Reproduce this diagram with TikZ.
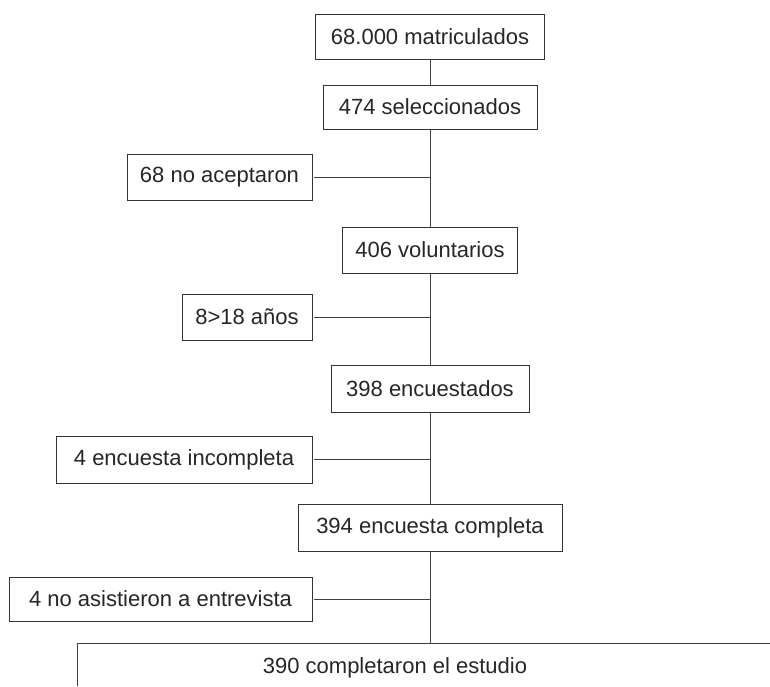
\documentclass[tikz,border=0pt]{standalone}
\usepackage{fontspec}
\setmainfont{Liberation Sans}
\usetikzlibrary{positioning, calc}

\begin{document}
\begin{tikzpicture}[x=1pt, y=-1pt,
    txt/.style={font=\fontsize{22}{26}\selectfont, text=black!85},
    box/.style={txt, draw=black!80, line width=0.9pt, inner sep=0pt},
    link/.style={draw=black!75, line width=0.8pt}]
  \useasboundingbox (0,0) rectangle (770,686);
  \node[box, minimum width=229pt, minimum height=45pt] (matric) at (430,36.5) {68.000 matriculados};
  \node[box, minimum width=214pt, minimum height=44pt] (selec) at (430,107) {474 seleccionados};
  \node[box, minimum width=185pt, minimum height=46pt] (noacep) at (219.5,177) {68 no aceptaron};
  \node[box, minimum width=175pt, minimum height=46pt] (volun) at (430,250) {406 voluntarios};
  \node[box, minimum width=130pt, minimum height=46pt] (mayores) at (247,317) {8>18 años};
  \node[box, minimum width=198pt, minimum height=47pt] (encues) at (430,388.5) {398 encuestados};
  \node[box, minimum width=256pt, minimum height=47pt] (incomp) at (184,459.5) {4 encuesta incompleta};
  \node[box, minimum width=264pt, minimum height=47pt] (comp) at (430,528) {394 encuesta completa};
  \node[box, minimum width=303pt, minimum height=44pt] (noasis) at (160.5,599) {4 no asistieron a entrevista};
  \coordinate (finaltop) at (430,643);
  \coordinate (finalleft) at (77,686);
  \coordinate (finalright) at (770,643);
  \draw[link, line width=0.9pt] (finalleft) |- (finalright);
  \node[txt, anchor=base] (final) at (395,673) {390 completaron el estudio};
  \foreach \a/\b in {matric/selec, selec/volun, volun/encues, encues/comp}
    \draw[link] (\a.south) -- (\b.north);
  \draw[link] (comp.south) -- (finaltop);
  \foreach \s in {noacep, mayores, incomp, noasis}
    \draw[link] ([xshift=2pt]\s.east) -- (\s.east -| matric.south);
\end{tikzpicture}
\end{document}
